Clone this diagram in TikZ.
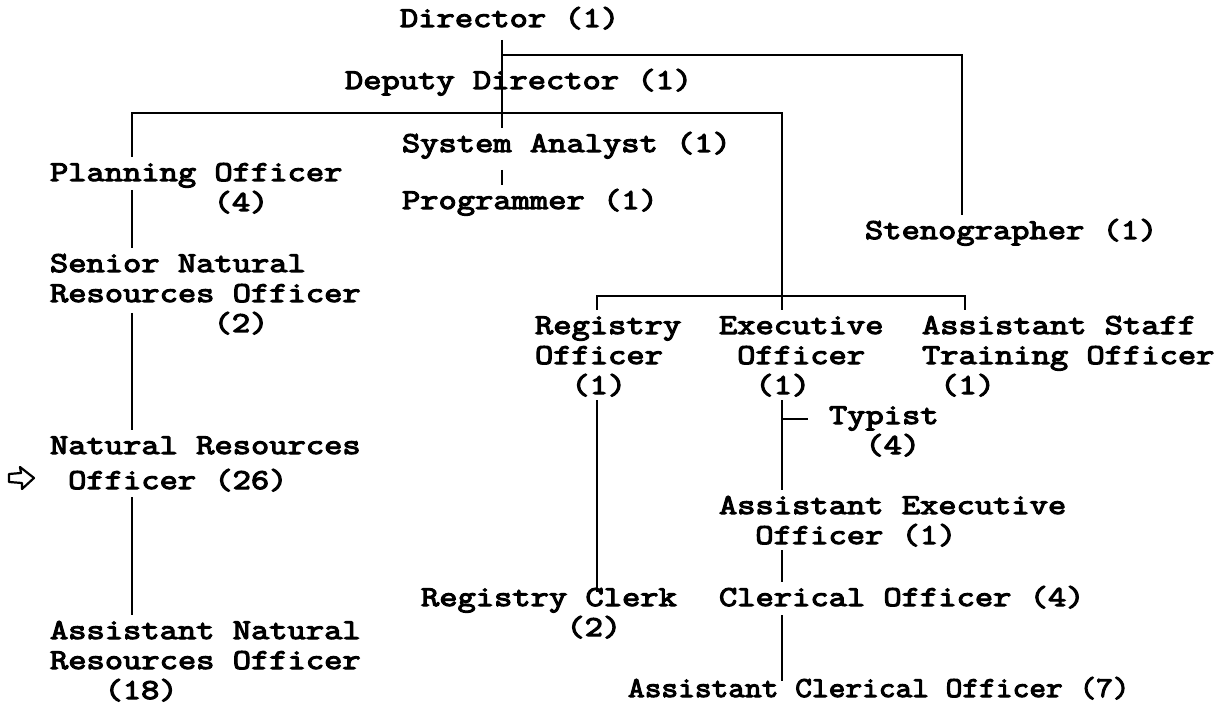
\documentclass[tikz,border=0pt]{standalone}
\usepackage{fontspec}
\newfontfamily\tw{Latin Modern Mono}[FakeStretch=1.23, FakeBold=4]
\newlength\cw
\setlength\cw{18.18pt}
\newcommand\ind[1]{\hspace*{#1\cw}}
\newcommand\st{\rule{0pt}{24pt}}
\begin{document}
\begin{tikzpicture}[x=1pt,y=-1pt,
  lbl/.style={font=\tw\fontsize{28.85}{30}\selectfont, inner sep=0pt, outer sep=0pt, anchor=north west, align=left},
  conn/.style={line width=2.6pt, black}]
\useasboundingbox (0,0) rectangle (1221,703);
% trunk x positions
\coordinate (xA) at (502,0);
\coordinate (xS) at (962,0);
\coordinate (xL) at (132,0);
\coordinate (xR) at (782,0);
\coordinate (xRg) at (597,0);
\coordinate (xAs) at (965,0);
% nodes
\node[lbl] (dir)   at (400,3)   {\st Director (1)};
\node[lbl] (dep)   at (345,65)  {\st Deputy Director (1)};
\node[lbl] (sys)   at (402,128) {\st System Analyst (1)};
\node[lbl] (prog)  at (402,185) {\st Programmer (1)};
\node[lbl] (steno) at (865,215) {\st Stenographer (1)};
\node[lbl] (plan)  at (50,157)  {\st Planning Officer\\ \ind{9}(4)};
\node[lbl] (sen)   at (50,248)  {\st Senior Natural\\Resources Officer\\ \ind{9}(2)};
\node[lbl] (nat)   at (50,430)  {\st Natural Resources\\[5pt] \ind{1}Officer (26)};
\node[lbl] (anat)  at (50,615)  {\st Assistant Natural\\Resources Officer\\ \ind{3}(18)};
\node[lbl] (reg)   at (535,310) {\st Registry\\Officer\\ \ind{2}(1)};
\node[lbl] (exe)   at (719,310) {\st Executive\\ \ind{1}Officer\\ \ind{2}(1)};
\node[lbl] (ast)   at (922,310) {\st Assistant Staff\\Training Officer\\ \ind{1}(1)};
\node[lbl] (typ)   at (829,400) {\st Typist\\ \ind{2}(4)};
\node[lbl] (aexe)  at (719,490) {\st Assistant Executive\\ \ind{2}Officer (1)};
\node[lbl] (clerk) at (421,582) {\st Registry Clerk\\ \ind{8}(2)};
\node[lbl] (cler)  at (719,582) {\st Clerical Officer (4)};
\node[lbl] (acler) at (628,673) {\st\scalebox{0.915}[1]{Assistant Clerical Officer (7)}};
% connectors
\draw[conn] ([yshift=-37pt]dir.north -| xA) -- (sys.north -| xA);
\draw[conn] ([yshift=-52pt]dir.north -| xA) -| (steno.north -| xS);
\draw[conn] (plan.north -| xL) |- ([yshift=-48pt]dep.north -| xR) -- (exe.north -| xR);
\draw[conn] ([yshift=-42pt]sys.north -| xA) -- (prog.north -| xA);
\draw[conn] ([yshift=-33pt]plan.north -| xL) -- (sen.north -| xL);
\draw[conn] ([yshift=-65pt]sen.north -| xL) -- (nat.north -| xL);
\draw[conn] ([yshift=-67pt]nat.north -| xL) -- (anat.north -| xL);
\draw[conn] (reg.north -| xRg) -- ++(0,-14) -| (ast.north -| xAs);
\draw[conn] ([yshift=-90pt]reg.north -| xRg) -- ([yshift=-10pt]clerk.north -| xRg);
\draw[conn] ([yshift=-90pt]exe.north -| xR) -- (aexe.north -| xR);
\draw[conn] ([yshift=-19pt]typ.north -| xR) -- ([xshift=-21pt,yshift=-19pt]typ.north west);
\draw[conn] ([yshift=-60pt]aexe.north -| xR) -- (cler.north -| xR);
\draw[conn] ([yshift=-33pt]cler.north -| xR) -- ([yshift=-8pt]acler.north -| xR);
% pointer arrow beside Natural Resources Officer
\draw[line width=2.2pt, line join=round] (9,474) -- (21,473) -- (20,467) -- (34,478) -- (22,489) -- (22,483) -- (9,482) -- cycle;
\end{tikzpicture}
\end{document}
